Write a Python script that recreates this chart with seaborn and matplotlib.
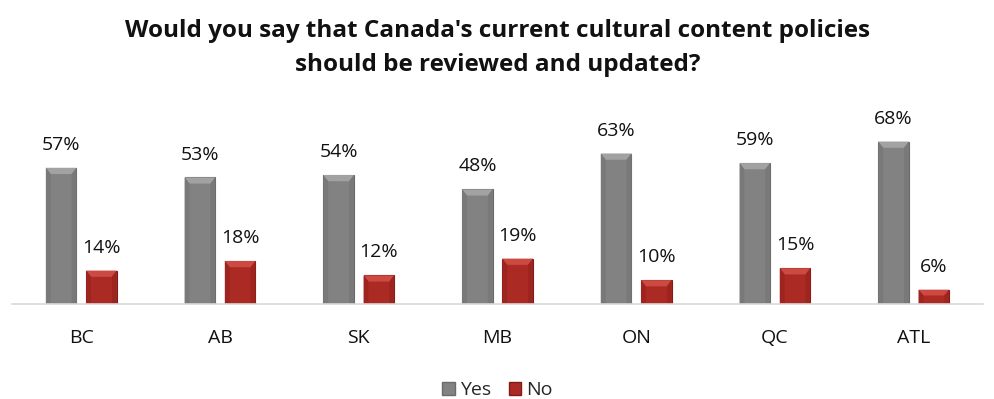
import matplotlib
matplotlib.use("Agg")
import matplotlib.pyplot as plt
import seaborn as sns
import pandas as pd
from matplotlib.patches import Patch, Polygon

regions = ["BC", "AB", "SK", "MB", "ON", "QC", "ATL"]
yes_vals = [57, 53, 54, 48, 63, 59, 68]
no_vals = [14, 18, 12, 19, 10, 15, 6]
series = ["Yes", "No"]
colors = {"Yes": "#828282", "No": "#AC2A24"}
edges = {"Yes": "#6A6A6A", "No": "#801C17"}
tops = {"Yes": "#A2A2A2", "No": "#CC4A42"}
sides = {"Yes": "#797979", "No": "#9E241F"}

df = pd.DataFrame({
    "region": regions * 2,
    "answer": ["Yes"] * len(regions) + ["No"] * len(regions),
    "pct": yes_vals + no_vals,
})

sns.set_theme(style="white")
plt.rcParams["font.family"] = ["Open Sans", "DejaVu Sans"]

fig = plt.figure(figsize=(9.95, 3.99), dpi=100)
ax = fig.add_axes([0.012, 0.238, 0.976, 0.521])

sns.barplot(data=df, x="region", y="pct", hue="answer", hue_order=series,
            order=regions, palette=colors, width=0.58, gap=0.24,
            saturation=1, ax=ax, legend=False)

ax.set_ylim(0, 87)
ax.set_xlim(-0.5, len(regions) - 0.5)

# bevelled look: lighter top facet and slightly darker side facets on each bar
bx, by = 0.035, 2.6
for cont, s in zip(ax.containers, series):
    for bar in cont:
        x0, w, h = bar.get_x(), bar.get_width(), bar.get_height()
        x1 = x0 + w
        d = min(by, h / 2.5)
        z = bar.get_zorder() + 0.1
        bar.set_edgecolor(edges[s])
        bar.set_linewidth(0.8)
        ax.add_patch(Polygon([(x0, h), (x1, h), (x1 - bx, h - d), (x0 + bx, h - d)],
                             closed=True, facecolor=tops[s], edgecolor="none", zorder=z))
        ax.add_patch(Polygon([(x0, 0), (x0 + bx, 0), (x0 + bx, h - d), (x0, h)],
                             closed=True, facecolor=sides[s], edgecolor="none", zorder=z))
        ax.add_patch(Polygon([(x1, 0), (x1 - bx, 0), (x1 - bx, h - d), (x1, h)],
                             closed=True, facecolor=sides[s], edgecolor="none", zorder=z))
    ax.bar_label(cont, labels=[f"{v:.0f}%" for v in cont.datavalues],
                 padding=10, fontsize=14, color="#111111")

ax.set_xlabel("")
ax.set_ylabel("")
ax.set_yticks([])
ax.tick_params(axis="x", length=0, labelsize=14, pad=18, colors="#111111")
for side in ["top", "left", "right"]:
    ax.spines[side].set_visible(False)
ax.spines["bottom"].set_color("#D9D9D9")
ax.spines["bottom"].set_linewidth(1.2)

fig.suptitle("Would you say that Canada's current cultural content policies\nshould be reviewed and updated?",
             y=0.952, fontsize=17.5, fontweight="bold", color="#111111", linespacing=1.55)

handles = [Patch(facecolor=colors[s], edgecolor=edges[s], label=s) for s in series]
fig.legend(handles=handles, loc="lower center", bbox_to_anchor=(0.5, -0.045), ncol=2,
           frameon=False, fontsize=14, handlelength=0.65, handleheight=0.65,
           handletextpad=0.25, columnspacing=0.9)

fig.savefig("out.png", dpi=100)
